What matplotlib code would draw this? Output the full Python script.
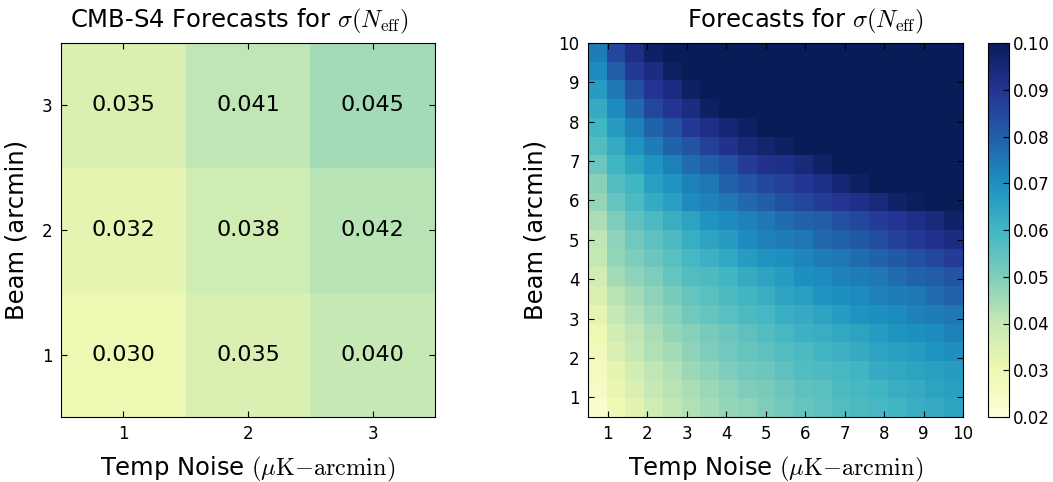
import numpy as np
import matplotlib
matplotlib.use("Agg")
import matplotlib.pyplot as plt

plt.rcParams['mathtext.fontset'] = 'cm'
plt.rcParams['font.family'] = ['DejaVu Sans']
plt.rcParams['xtick.direction'] = 'in'
plt.rcParams['ytick.direction'] = 'in'
plt.rcParams['xtick.top'] = True
plt.rcParams['ytick.right'] = True
plt.rcParams['xtick.major.size'] = 4.5
plt.rcParams['ytick.major.size'] = 4.5

# ---------------- data ----------------
# Left panel: CMB-S4 forecasts (rows = beam 1,2,3 ; cols = noise 1,2,3)
s4_noise = [1, 2, 3]
s4_beam = [1, 2, 3]
s4_sigma = [
    [0.030, 0.035, 0.040],   # beam 1
    [0.032, 0.038, 0.042],   # beam 2
    [0.035, 0.041, 0.045],   # beam 3
]

# Right panel: 20 x 20 grid, rows from lowest beam (bottom) to highest (top)
D = 0.105  # saturated (> 0.10)
grid_sigma = [
    [0.023, 0.029, 0.033, 0.038, 0.041, 0.043, 0.045, 0.047, 0.048, 0.050, 0.052, 0.054, 0.055, 0.057, 0.058, 0.059, 0.060, 0.062, 0.063, 0.065],
    [0.025, 0.031, 0.035, 0.040, 0.042, 0.044, 0.046, 0.048, 0.050, 0.051, 0.053, 0.055, 0.056, 0.058, 0.059, 0.060, 0.062, 0.063, 0.065, 0.066],
    [0.026, 0.032, 0.037, 0.041, 0.043, 0.046, 0.048, 0.050, 0.052, 0.053, 0.055, 0.057, 0.058, 0.059, 0.060, 0.063, 0.064, 0.065, 0.066, 0.067],
    [0.028, 0.035, 0.040, 0.043, 0.045, 0.048, 0.050, 0.052, 0.054, 0.055, 0.057, 0.058, 0.060, 0.061, 0.063, 0.065, 0.066, 0.067, 0.069, 0.070],
    [0.030, 0.037, 0.041, 0.044, 0.047, 0.049, 0.051, 0.053, 0.055, 0.057, 0.059, 0.061, 0.062, 0.064, 0.065, 0.067, 0.069, 0.070, 0.071, 0.073],
    [0.032, 0.040, 0.043, 0.046, 0.049, 0.052, 0.054, 0.056, 0.058, 0.059, 0.062, 0.063, 0.065, 0.067, 0.069, 0.070, 0.071, 0.073, 0.074, 0.075],
    [0.035, 0.042, 0.045, 0.048, 0.051, 0.054, 0.056, 0.058, 0.060, 0.062, 0.065, 0.066, 0.069, 0.070, 0.071, 0.073, 0.074, 0.075, 0.077, 0.079],
    [0.037, 0.045, 0.048, 0.050, 0.054, 0.057, 0.058, 0.060, 0.063, 0.065, 0.067, 0.070, 0.071, 0.073, 0.074, 0.075, 0.077, 0.079, 0.080, 0.082],
    [0.040, 0.047, 0.050, 0.053, 0.056, 0.059, 0.061, 0.064, 0.067, 0.069, 0.070, 0.072, 0.074, 0.075, 0.077, 0.079, 0.081, 0.083, 0.085, 0.088],
    [0.041, 0.048, 0.052, 0.055, 0.058, 0.062, 0.065, 0.067, 0.071, 0.073, 0.074, 0.075, 0.078, 0.079, 0.081, 0.084, 0.087, 0.089, 0.091, 0.093],
    [0.044, 0.050, 0.055, 0.058, 0.062, 0.065, 0.069, 0.071, 0.073, 0.075, 0.077, 0.079, 0.080, 0.083, 0.085, 0.088, 0.090, 0.092, 0.094, 0.097],
    [0.047, 0.054, 0.058, 0.063, 0.066, 0.071, 0.073, 0.075, 0.078, 0.080, 0.083, 0.085, 0.088, 0.090, 0.092, 0.094, 0.097, 0.099, 0.100, D],
    [0.049, 0.057, 0.060, 0.066, 0.069, 0.073, 0.075, 0.079, 0.082, 0.085, 0.087, 0.090, 0.092, 0.095, 0.098, 0.100, D, D, D, D],
    [0.053, 0.060, 0.065, 0.069, 0.073, 0.077, 0.080, 0.083, 0.088, 0.091, 0.092, 0.094, 0.097, D, D, D, D, D, D, D],
    [0.057, 0.063, 0.069, 0.074, 0.079, 0.082, 0.087, 0.091, 0.094, 0.096, 0.098, D, D, D, D, D, D, D, D, D],
    [0.060, 0.067, 0.073, 0.079, 0.083, 0.089, 0.092, 0.095, 0.098, D, D, D, D, D, D, D, D, D, D, D],
    [0.063, 0.071, 0.078, 0.085, 0.090, 0.093, 0.098, D, D, D, D, D, D, D, D, D, D, D, D, D],
    [0.067, 0.075, 0.083, 0.090, 0.093, 0.098, D, D, D, D, D, D, D, D, D, D, D, D, D, D],
    [0.071, 0.080, 0.089, 0.093, 0.098, D, D, D, D, D, D, D, D, D, D, D, D, D, D, D],
    [0.074, 0.085, 0.092, 0.098, D, D, D, D, D, D, D, D, D, D, D, D, D, D, D, D],
]
grid_ticks = list(range(1, 11))
cbar_ticks = [0.02, 0.03, 0.04, 0.05, 0.06, 0.07, 0.08, 0.09, 0.10]

vmin, vmax = 0.02, 0.10
cmap = 'YlGnBu'

W, H = 1053, 482
fig = plt.figure(figsize=(W / 100, H / 100), dpi=100)

def box(x0, y0, x1, y1):
    return [x0 / W, 1 - y1 / H, (x1 - x0) / W, (y1 - y0) / H]

xlab = r'Temp Noise $(\mu{\rm K}{-}{\rm arcmin})$'
ylab = 'Beam (arcmin)'
LFS = 17.5
TKS = 12

# ---------- left ----------
ax1 = fig.add_axes(box(61, 43, 435, 417))
arr1 = np.array(s4_sigma)
ax1.imshow(arr1, origin='lower', cmap=cmap, vmin=vmin, vmax=vmax,
           extent=[0.5, 3.5, 0.5, 3.5], aspect='auto', interpolation='nearest')
for i, b in enumerate(s4_beam):
    for j, n in enumerate(s4_noise):
        ax1.text(n, b, '%.3f' % arr1[i, j], ha='center', va='center', fontsize=16)
ax1.set_xticks(s4_noise)
ax1.set_yticks(s4_beam)
ax1.set_xlim(0.5, 3.5)
ax1.set_ylim(0.5, 3.5)
ax1.tick_params(labelsize=TKS, pad=6)
ax1.set_xlabel(xlab, fontsize=LFS, labelpad=8)
ax1.set_ylabel(ylab, fontsize=LFS, labelpad=10)
ax1.set_title(r'CMB-S4 Forecasts for $\sigma(N_{\rm eff})$', fontsize=LFS, pad=11,
              x=(239 - 61) / 374)

# ---------- right ----------
ax2 = fig.add_axes(box(588, 43, 963, 417))
arr2 = np.array(grid_sigma)
im = ax2.imshow(arr2, origin='lower', cmap=cmap, vmin=vmin, vmax=vmax,
                extent=[0.5, 10, 0.5, 10], aspect='auto', interpolation='nearest')
ax2.set_xticks(grid_ticks)
ax2.set_yticks(grid_ticks)
ax2.set_xlim(0.5, 10)
ax2.set_ylim(0.5, 10)
ax2.tick_params(labelsize=TKS, pad=6)
ax2.set_xlabel(xlab, fontsize=LFS, labelpad=8)
ax2.set_ylabel(ylab, fontsize=LFS, labelpad=8)
ax2.set_title(r'Forecasts for $\sigma(N_{\rm eff})$', fontsize=LFS, pad=11,
              x=(805 - 588) / 375)

cax = fig.add_axes(box(988, 43, 1009, 417))
cb = fig.colorbar(im, cax=cax, ticks=cbar_ticks, format='%.2f')
cb.ax.tick_params(direction='in', labelsize=TKS, length=4.5, right=True, left=False, pad=3)

fig.savefig('out.png', dpi=100)
